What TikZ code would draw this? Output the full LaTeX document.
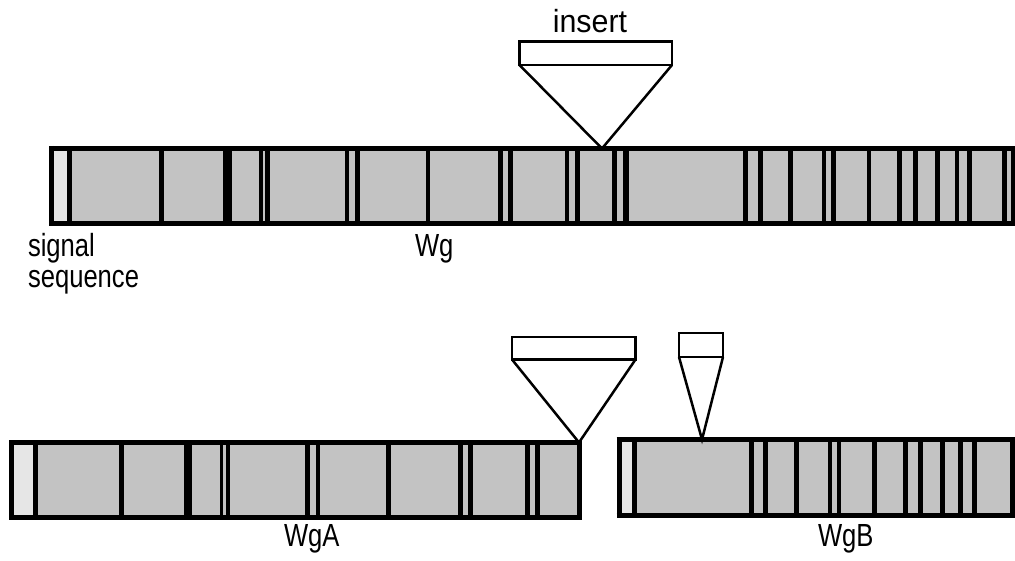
\documentclass[tikz,border=0pt]{standalone}
\usepackage{fontspec}
\setmainfont{Liberation Sans}
\newfontfamily\lblfont[FakeStretch=0.8]{Liberation Sans}
\newfontfamily\insfont[FakeStretch=0.95]{Liberation Sans}
\definecolor{exon}{HTML}{C3C3C3}
\definecolor{sigseq}{HTML}{E6E6E6}
\begin{document}
\begin{tikzpicture}[x=1pt,y=-1pt,
  barframe/.style={draw=black,fill=exon,line width=5pt},
  sigblock/.style={fill=sigseq},
  insbox/.style={draw=black,fill=white,line width=2.8pt,inner sep=0pt,outer sep=0pt},
  wedge/.style={draw=black,line width=2.5pt,line join=miter},
  lbl/.style={inner sep=0pt,outer sep=0pt,font=\lblfont\fontsize{32}{31}\selectfont},
  inslbl/.style={inner sep=0pt,outer sep=0pt,font=\insfont\fontsize{32}{31}\selectfont}]
\useasboundingbox (0,0) rectangle (1015,561);

% full-length Wg
\fill[sigseq] (51,148.5) rectangle (69,224);
\path[barframe] (69,148.5) rectangle (1013,224);
\draw[line width=5pt] (51,146) -- (51,226.5);
\draw[line width=5pt] (49,148.5) -- (1015,148.5) (49,224) -- (1015,224);
\foreach \x/\w in {69.5/1.5,161.5/5,227.5/9,261/4,267.5/5,347/4,357.5/5,428/4,
                   500.5/5,510.5/5,567/4,577.5/5,614.5/5,626/6,745.5/5,760.5/5,
                   790.5/5,824/4,833.5/5,869/4,899.5/5,915.5/5,937.5/5,957/4,
                   969.5/5,1004.5/5}
  \draw[line width=\w pt] (\x,148.5) -- (\x,224);

% WgA
\fill[sigseq] (11.5,442.5) rectangle (35,517);
\path[barframe] (35,442.5) rectangle (579.5,517);
\draw[line width=5pt] (11.5,440) -- (11.5,519.5);
\draw[line width=5pt] (9,442.5) -- (582,442.5) (9,517) -- (582,517);
\foreach \x/\w in {35/2.5,121.5/5,188/8,221.5/3,228/4,307.5/5,317.5/4,388.5/5,
                   460.5/5,470.5/5,527.5/5,537.5/5}
  \draw[line width=\w pt] (\x,442.5) -- (\x,517);

% WgB
\fill[sigseq] (619,439.5) rectangle (634,515.5);
\path[barframe] (634,439.5) rectangle (1012,515.5);
\draw[line width=5pt] (619,437) -- (619,518);
\draw[line width=5pt] (616.5,439.5) -- (1015,439.5) (616.5,515.5) -- (1015,515.5);
\foreach \x/\w in {634/2,751.5/5,765.5/5,796.5/5,830/4,839/4,874.5/5,905.5/5,
                   920.5/5,942.5/5,960.5/5,974.5/5}
  \draw[line width=\w pt] (\x,439.5) -- (\x,515.5);

% insertion sites
\coordinate (tipWg)  at (602,148.5);
\coordinate (tipWgA) at (579,442.5);
\coordinate (tipWgB) at (702,439.5);

% inserts and their wedges
\node[insbox,minimum width=152.5pt,minimum height=23.7pt] (insWg)  at (595.75,53.15) {};
\node[insbox,minimum width=123.5pt,minimum height=22.5pt] (insWgA) at (573.75,348.25) {};
\node[insbox,minimum width=44pt,minimum height=24pt]      (insWgB) at (701,345) {};
\draw[wedge] (insWg.south west)  -- (tipWg)  -- (insWg.south east);
\draw[wedge] (insWgA.south west) -- (tipWgA) -- (insWgA.south east);
\draw[wedge] (insWgB.south west) -- (tipWgB) -- (insWgB.south east);

% labels
\node[inslbl,anchor=base] (tInsert) at (590,33) {insert};
\node[lbl,anchor=base west,align=left] (tSignal) at (28,288) {signal\\sequence};
\node[lbl,anchor=base west] (tWg)  at (415,257) {Wg};
\node[lbl,anchor=base west] (tWgA) at (284,546) {WgA};
\node[lbl,anchor=base west] (tWgB) at (818,546) {WgB};
\end{tikzpicture}
\end{document}
